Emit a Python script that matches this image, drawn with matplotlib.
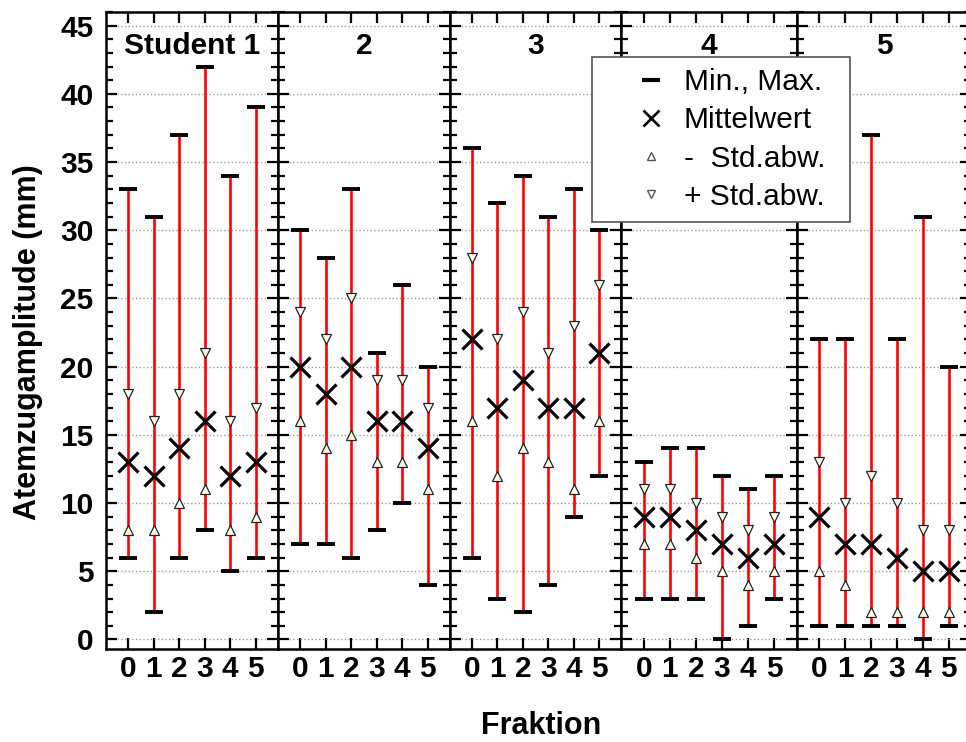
import numpy as np
import matplotlib
matplotlib.use('Agg')
import matplotlib.pyplot as plt
from matplotlib.lines import Line2D
from matplotlib.ticker import MultipleLocator

plt.rcParams['font.family'] = ['Liberation Sans', 'DejaVu Sans']
plt.rcParams['font.weight'] = 'bold'

# Fraktionen 0..5 je Student
fraktion = [0, 1, 2, 3, 4, 5]
titel = ['Student 1', '2', '3', '4', '5']

maxima = [[33, 31, 37, 42, 34, 39],
          [30, 28, 33, 21, 26, 20],
          [36, 32, 34, 31, 33, 30],
          [13, 14, 14, 12, 11, 12],
          [22, 22, 37, 22, 31, 20]]
minima = [[6, 2, 6, 8, 5, 6],
          [7, 7, 6, 8, 10, 4],
          [6, 3, 2, 4, 9, 12],
          [3, 3, 3, 0, 1, 3],
          [1, 1, 1, 1, 0, 1]]
mittel = [[13, 12, 14, 16, 12, 13],
          [20, 18, 20, 16, 16, 14],
          [22, 17, 19, 17, 17, 21],
          [9, 9, 8, 7, 6, 7],
          [9, 7, 7, 6, 5, 5]]
std_plus = [[18, 16, 18, 21, 16, 17],
            [24, 22, 25, 19, 19, 17],
            [28, 22, 24, 21, 23, 26],
            [11, 11, 10, 9, 8, 9],
            [13, 10, 12, 10, 8, 8]]
std_minus = [[8, 8, 10, 11, 8, 9],
             [16, 14, 15, 13, 13, 11],
             [16, 12, 14, 13, 11, 16],
             [7, 7, 6, 5, 4, 5],
             [5, 4, 2, 2, 2, 2]]

W, H = 966, 742
fig = plt.figure(figsize=(W / 100, H / 100), dpi=100)
grenzen = [106, 278, 450, 621, 797, 971]   # Pixelgrenzen der Panels
oben, unten = 12, 649

for i in range(5):
    ax = fig.add_axes([grenzen[i] / W, 1 - unten / H,
                       (grenzen[i + 1] - grenzen[i]) / W, (unten - oben) / H])
    ax.vlines(fraktion, minima[i], maxima[i], color='red', lw=1.9, zorder=2)
    ax.plot(fraktion, maxima[i], ls='none', marker='_', ms=13, mew=2.8, color='black', zorder=3)
    ax.plot(fraktion, minima[i], ls='none', marker='_', ms=13, mew=2.8, color='black', zorder=3)
    ax.plot(fraktion, mittel[i], ls='none', marker='x', ms=15, mew=2.3, color='black', zorder=4)
    ax.plot(fraktion, std_plus[i], ls='none', marker='v', ms=7.5, mfc='#fffff0', mec='#222', mew=0.9, zorder=4)
    ax.plot(fraktion, std_minus[i], ls='none', marker='^', ms=7.5, mfc='#fffff0', mec='#222', mew=0.9, zorder=4)

    ax.set_xlim(-0.87, 5.87)
    ax.set_ylim(-0.7, 46)
    ax.set_xticks(fraktion)
    ax.yaxis.set_major_locator(MultipleLocator(5))
    ax.yaxis.set_minor_locator(MultipleLocator(1))
    ax.set_axisbelow(True)
    ax.grid(axis='y', ls=':', color='#9a9a9a', lw=1.0)

    ax.tick_params(which='both', direction='in', top=True, right=True, width=1.6)
    ax.tick_params(which='major', length=8, labelsize=21.5, pad=4)
    ax.tick_params(axis='y', which='major', pad=9)
    ax.tick_params(which='minor', length=5)
    if i > 0:
        ax.tick_params(labelleft=False)
    for s in ax.spines.values():
        s.set_linewidth(1.8)

    ax.text(0.5, 0.968, titel[i], transform=ax.transAxes, ha='center', va='top',
            fontsize=21.5, fontweight='bold')

fig.text(28 / W, 1 - 342 / H, 'Atemzugamplitude (mm)', rotation=90,
         ha='center', va='center', fontsize=22, fontweight='bold')
fig.text(541 / W, 1 - 726 / H, 'Fraktion', ha='center', va='center',
         fontsize=22, fontweight='bold')

# Legende über den Panels 3 und 4
handles = [Line2D([], [], ls='none', marker='_', ms=13, mew=3.0, color='black'),
           Line2D([], [], ls='none', marker='x', ms=12, mew=1.9, color='black'),
           Line2D([], [], ls='none', marker='^', ms=6, mfc='white', mec='#555', mew=1),
           Line2D([], [], ls='none', marker='v', ms=6, mfc='white', mec='#555', mew=1)]
labels = ['Min., Max.', 'Mittelwert', '-  Std.abw.', '+ Std.abw.']
leg = fig.legend(handles, labels, loc='upper left',
                 bbox_to_anchor=(592 / W, 1 - 225 / H, (850 - 592) / W, (225 - 57) / H),
                 mode='expand', prop={'size': 21.5, 'weight': 'normal'},
                 frameon=True, fancybox=False, framealpha=1, edgecolor='#555',
                 borderpad=0.38, labelspacing=0.34, handlelength=3.2,
                 handletextpad=-0.5, borderaxespad=0, numpoints=1)
leg.get_frame().set_linewidth(1.2)

fig.savefig('out.png', dpi=100)
